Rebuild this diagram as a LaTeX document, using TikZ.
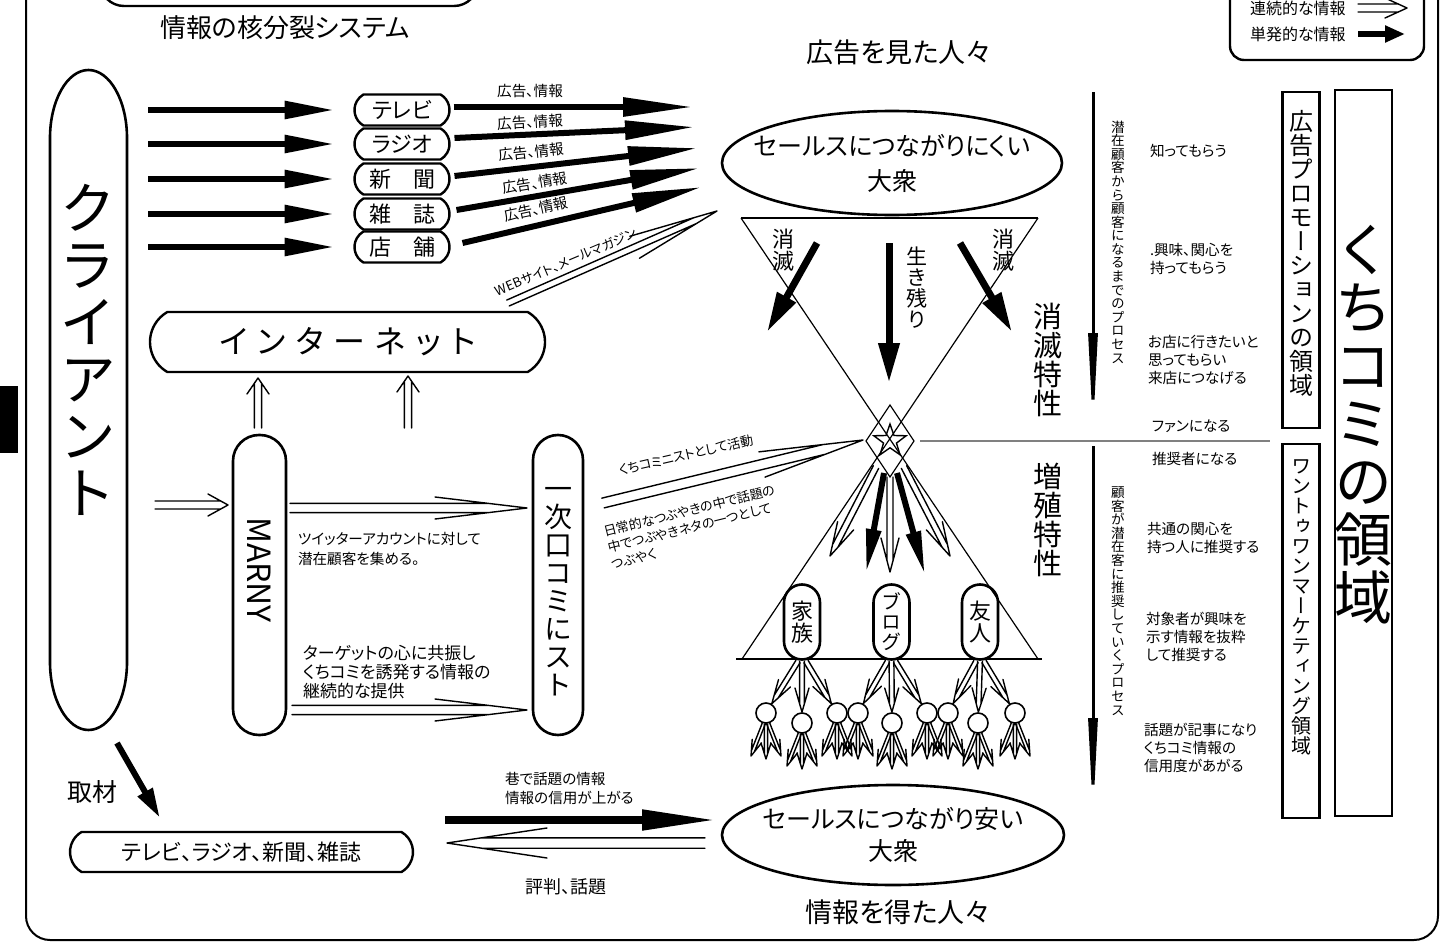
\documentclass[tikz,border=0pt]{standalone}
\usepackage{fontspec}
\setmainfont{Noto Sans CJK JP}[RawFeature=+palt]
\newfontfamily\vjp{Noto Sans CJK JP}[RawFeature=+vert]
\usetikzlibrary{arrows.meta,shapes.geometric,shapes.misc,calc}
\newcommand\fs[2]{\fontsize{#1pt}{#2pt}\selectfont}
% vertical text: one character per line, vertical glyph forms
\def\vstaux#1{\ifx\relax#1\else\hbox to 1em{\hss#1\hss}\expandafter\vstaux\fi}
\newcommand\V[2]{{\vjp\fontsize{#1pt}{#1pt}\selectfont\vbox{\baselineskip=#1pt\lineskiplimit=-1000pt\lineskip=0pt\vstaux#2\relax}}}
% double (open) arrow: [opts]{start}{tip}{half gap}{head length}{head half width}
\newcommand\darr[6][]{%
  \pgfmathsetmacro\darrc{#5*#4/#6}%
  \draw[dl,#1] ($(#2)!#4pt!90:(#3)$) -- ($(#3)!\darrc pt!(#2)!#4pt!90:(#3)$)
    ($(#2)!#4pt!-90:(#3)$) -- ($(#3)!\darrc pt!(#2)!#4pt!-90:(#3)$)
    ($(#3)!#5pt!(#2)!#6pt!90:(#3)$) -- (#3) -- ($(#3)!#5pt!(#2)!#6pt!-90:(#3)$);%
}
\tikzset{
  hstad/.style={draw, line width=1.2pt, rounded rectangle, rounded rectangle arc length=120},
  dl/.style={line width=0.7pt, line join=round, line cap=round},
  thkA/.style={line width=3pt,-{Triangle[length=25pt,width=8.5pt]}},
  thkB/.style={line width=3pt,-{Triangle[length=35pt,width=9pt]}},
  thkC/.style={line width=3.5pt,-{Triangle[length=20pt,width=10pt]}},
  thkD/.style={line width=3pt,-{Triangle[length=22pt,width=7pt]}},
  thkE/.style={line width=3pt,-{Triangle[length=15pt,width=8pt]}},
  thkF/.style={line width=4pt,-{Triangle[length=38pt,width=9.5pt]}},
  thkG/.style={line width=3pt,-{Triangle[length=10pt,width=8pt]}},
  varr/.style={line width=1.5pt,-{Triangle[length=50pt,width=4.5pt]}},
  vbox/.style={draw, line width=1.3pt},
  coltext/.style={anchor=west, align=left, font=\fs{7.3}{9}},
}
\begin{document}
\begin{tikzpicture}[x=0.5pt,y=-0.5pt, every node/.style={inner sep=0pt,outer sep=0pt}]
\useasboundingbox (0,0) rectangle (1442,942);
% frame
\draw[line width=1pt, rounded corners=12pt] (26,-60) rectangle (1438,940);
\fill (0,386) rectangle (18,453);
\draw[line width=1.2pt, rounded corners=12pt] (100,-60) rectangle (478,6);
\node[font=\fs{13}{15}] (title) at (285,28) {情報の核分裂システム};
% legend
\draw[line width=1.2pt, rounded corners=7pt] (1230,-40) rectangle (1424,60);
\node[anchor=west,font=\fs{8}{9}] (lg1) at (1250,8) {連続的な情報};
\node[anchor=west,font=\fs{8}{9}] (lg2) at (1250,34) {単発的な情報};
\coordinate (lga) at (1358,8); \coordinate (lgb) at (1407,8);
\darr{lga}{lgb}{2}{11}{5}
\coordinate (lgc) at (1358,34); \coordinate (lgd) at (1405,34);
\draw[thkG] (lgc) -- (lgd);
% headings
\node[font=\fs{13.5}{15}] (seen) at (899,52) {広告を見た人々};
\node[font=\fs{13.5}{15}] (got) at (898,912) {情報を得た人々};
% client
\node[minimum width=38.5pt, minimum height=330pt] (cl) at (88.5,400) {};
\draw[line width=1.3pt] (50,138) arc[start angle=180,end angle=360,x radius=38.5,y radius=68] -- (127,662) arc[start angle=0,end angle=180,x radius=38.5,y radius=68] -- cycle;
\node (clt) at (88,350) {\V{28.5}{クライアント}};
% media
\node[hstad, minimum width=47.5pt, minimum height=15.5pt, font=\fs{11}{12}] (tv) at (402,110) {テレビ};
\node[hstad, minimum width=47.5pt, minimum height=15.5pt, font=\fs{11}{12}] (ra) at (402,144) {ラジオ};
\node[hstad, minimum width=47.5pt, minimum height=15.5pt, font=\fs{11}{12}] (sh) at (402,179) {新\hspace{1em}聞};
\node[hstad, minimum width=47.5pt, minimum height=15.5pt, font=\fs{11}{12}] (za) at (402,214) {雑\hspace{1em}誌};
\node[hstad, minimum width=47.5pt, minimum height=15.5pt, font=\fs{11}{12}] (te) at (402,247) {店\hspace{1em}舗};
\foreach \m in {tv,ra,sh,za,te}{
  \draw[thkA] (cl.east |- \m) ++(21,0) -- ([xshift=-10pt]\m.west);
}
% media -> upper
\coordinate (m1) at (693,107); \coordinate (m2) at (695,127); \coordinate (m3) at (698,148);
\coordinate (m4) at (700,168); \coordinate (m5) at (702,187);
\draw[thkB] ([shift={(4,-3)}]tv.east) -- (m1);
\draw[thkB] ([shift={(5,-6)}]ra.east) -- (m2);
\draw[thkB] ([shift={(5,-3)}]sh.east) -- (m3);
\draw[thkB] ([shift={(7,-4)}]za.east) -- (m4);
\draw[thkB] ([shift={(13,-4)}]te.east) -- (m5);
\node[font=\fs{7.3}{8}] (l1) at (530,91) {広告、情報};
\node[font=\fs{7.3}{8},rotate=3] (l2) at (530,122) {広告、情報};
\node[font=\fs{7.3}{8},rotate=6] (l3) at (531,152) {広告、情報};
\node[font=\fs{7.3}{8},rotate=9] (l4) at (535,183) {広告、情報};
\node[font=\fs{7.3}{8},rotate=12] (l5) at (536,209) {広告、情報};
% upper ellipse
\draw[line width=1.3pt] (892,163) ellipse [x radius=170, y radius=52];
\node[align=center, font=\fs{12.5}{17.5}] (upper) at (892,163) {セールスにつながりにくい\\大衆};
% hourglass
\coordinate (tl) at (741,218); \coordinate (tr) at (1038,218);
\coordinate (bl) at (742,659); \coordinate (br) at (1038,659);
\draw[line width=0.6pt] (tl) -- (br) (tr) -- (bl);
\draw[line width=1pt] (tl) -- (tr);
\draw[line width=1.3pt] ([xshift=-3pt]bl) -- ([xshift=2pt]br);
\draw[line width=0.6pt] (890,405) -- (866,441) -- (890,477) -- (914,441) -- cycle;
\node[star, star points=5, star point ratio=2.5, draw, line width=0.7pt, minimum size=17pt] (star) at (890,441) {};
% arrows in upper triangle
\coordinate (ua1) at (817,243); \coordinate (ub1) at (767,332);
\coordinate (ua2) at (889,243); \coordinate (ub2) at (889,383);
\coordinate (ua3) at (960,243); \coordinate (ub3) at (1012,332);
\draw[thkC] (ua1) -- (ub1);
\draw[thkC] (ua2) -- (ub2);
\draw[thkC] (ua3) -- (ub3);
\node (ms1) at (783,250) {\V{11}{消滅}};
\node (ms2) at (1003,250) {\V{11}{消滅}};
\node (iki) at (917,288) {\V{10.5}{生き残り}};
\node (sm) at (1048,360) {\V{14.5}{消滅特性}};
\node (zs) at (1048,520) {\V{14.5}{増殖特性}};
% gray line
\coordinate (g1) at (920,441); \coordinate (g2) at (1270,441);
\draw[gray, line width=0.6pt] (g1) -- (g2);
% vertical process arrows
\coordinate (va1) at (1093,92); \coordinate (vb1) at (1093,433);
\coordinate (va2) at (1093,446); \coordinate (vb2) at (1093,818);
\draw[varr] (va1) -- (vb1);
\draw[varr] (va2) -- (vb2);
\node (p1) at (1118,242) {\V{6.8}{潜在顧客から顧客になるまでのプロセス}};
\node (p2) at (1118,601) {\V{6.8}{顧客が潜在客に推奨していくプロセス}};
% right column texts
\node[coltext] (r1) at (1150,151) {知ってもらう};
\node[coltext] (r2) at (1150,259) {.興味、関心を\\持ってもらう};
\node[coltext] (r3) at (1148,360) {お店に行きたいと\\思ってもらい\\来店につなげる};
\node[coltext] (r4) at (1152,426) {ファンになる};
\node[coltext] (r5) at (1152,459) {推奨者になる};
\node[coltext] (r6) at (1147,538) {共通の関心を\\持つ人に推奨する};
\node[coltext] (r7) at (1146,637) {対象者が興味を\\示す情報を抜粋\\して推奨する};
\node[coltext] (r8) at (1144,748) {話題が記事になり\\くちコミ情報の\\信用度があがる};
% area boxes
\node[vbox, minimum width=18.5pt, minimum height=168pt] (b1) at (1301,260) {};
\node (b1t) at (1301,253) {\V{12}{広告プロモーションの領域}};
\node[vbox, minimum width=18.5pt, minimum height=187pt] (b2) at (1301,631) {};
\node (b2t) at (1301,607) {\V{10}{ワントゥワンマーケティング領域}};
\node[vbox, minimum width=28.5pt, minimum height=363pt] (b3) at (1363.5,453) {};
\node (b3t) at (1363,425) {\V{29}{くちコミの領域}};
% internet
\node[hstad, minimum width=197.5pt, minimum height=30pt, font=\fs{16}{18}] (net) at (347.5,342) {イ\kern5pt ン\kern5pt タ\kern5pt ー\kern5pt ネ\kern5pt ッ\kern5pt ト};
\coordinate (u1s) at (258,428); \coordinate (u1t) at (258,378);
\darr{u1s}{u1t}{1.8}{8}{5.5}
\coordinate (u2s) at (408,428); \coordinate (u2t) at (408,376);
\darr{u2s}{u2t}{1.8}{8}{5.5}
% web
\coordinate (ws) at (508,303); \coordinate (wt) at (717,211);
\darr{ws}{wt}{1.6}{45}{6}
\node[rotate=23, font=\fs{6.5}{7}] (webt) at (566,262) {WEBサイト、メールマガジン};
% MARNY and first kuchikomi-nist
\node[vbox, rounded corners=13pt, minimum width=26.5pt, minimum height=150pt] (mar) at (259.5,585) {};
\node[rotate=-90, font=\fs{16}{17}] (mart) at (259.5,570) {MARNY};
\node[vbox, rounded corners=12.5pt, minimum width=25pt, minimum height=150pt] (ichi) at (558,585) {};
\node (ichit) at (558,592) {\V{14}{一次口コミにスト}};
\coordinate (cm1) at (155,505); \coordinate (cm2) at (228,505);
\darr{cm1}{cm2}{2}{10}{5.5}
\coordinate (mi1) at (290,508); \coordinate (mi2) at (527,508);
\darr{mi1}{mi2}{2.3}{46}{5.5}
\coordinate (mi3) at (292,710); \coordinate (mi4) at (527,710);
\darr{mi3}{mi4}{2.3}{46}{5.5}
\node[anchor=west, align=left, font=\fs{7.3}{10}] (tw) at (298,549) {ツイッターアカウントに対して\\潜在顧客を集める。};
\node[anchor=west, align=left, font=\fs{8.5}{9.3}] (tg) at (303,672) {ターゲットの心に共振し\\くちコミを誘発する情報の\\継続的な提供};
% to the star
\coordinate (ks) at (603,503); \coordinate (kt) at (863,440);
\darr{ks}{kt}{2.5}{52}{6.5}
\node[rotate=13, font=\fs{6.5}{7}] (kl) at (686,455) {くちコミニストとして活動};
\node[rotate=14, anchor=west, align=left, font=\fs{6.5}{8.3}] (nl) at (608,548) {日常的なつぶやきの中で話題の\\中でつぶやきネタの一つとして\\つぶやく};
% star fan
\coordinate (sf1) at (876,467); \coordinate (sf1t) at (830,556);
\coordinate (sf2) at (890,477); \coordinate (sf2t) at (890,572);
\coordinate (sf3) at (904,467); \coordinate (sf3t) at (950,556);
\darr{sf1}{sf1t}{1.5}{17}{4.5}
\darr{sf2}{sf2t}{1.5}{17}{4.5}
\darr{sf3}{sf3t}{1.5}{17}{4.5}
\coordinate (sd1) at (884,473); \coordinate (sd1t) at (866,573);
\coordinate (sd2) at (897,473); \coordinate (sd2t) at (925,575);
\draw[thkD] (sd1) -- (sd1t);
\draw[thkD] (sd2) -- (sd2t);
% groups
\node[vbox, rounded corners=9pt, minimum width=18pt, minimum height=37.5pt] (kazoku) at (802,622) {};
\node (kzt) at (802,622) {\V{11}{家族}};
\node[vbox, rounded corners=9pt, minimum width=18pt, minimum height=37.5pt] (blog) at (891.5,622) {};
\node (blt) at (891.5,622) {\V{10}{ブログ}};
\node[vbox, rounded corners=9pt, minimum width=18pt, minimum height=37.5pt] (yujin) at (980,622) {};
\node (yjt) at (980,622) {\V{11}{友人}};
\foreach \cx/\cy [count=\k] in {766/713,802/723,837/713,858/713,892/723,927/713,948/713,978/723,1015/713}{
  \node[circle, draw, line width=0.8pt, minimum size=10pt] (c\k) at (\cx,\cy) {};
  \coordinate (f1s) at ($(c\k)+(-2,10)$); \coordinate (f1t) at ($(c\k)+(-15,43)$);
  \coordinate (f2s) at ($(c\k)+(0,11)$); \coordinate (f2t) at ($(c\k)+(0,46)$);
  \coordinate (f3s) at ($(c\k)+(2,10)$); \coordinate (f3t) at ($(c\k)+(15,43)$);
  \darr{f1s}{f1t}{0.8}{8}{2.5}
  \darr{f2s}{f2t}{0.8}{8}{2.5}
  \darr{f3s}{f3t}{0.8}{8}{2.5}
}
\foreach \g/\ca/\cb/\cc in {kazoku/c1/c2/c3, blog/c4/c5/c6, yujin/c7/c8/c9}{
  \coordinate (s1) at ($(\g.south)+(-4,2)$); \coordinate (t1) at ($(\ca)!5.5pt!(s1)$);
  \coordinate (s2) at ($(\g.south)+(0,2)$);  \coordinate (t2) at ($(\cb)!5.5pt!(s2)$);
  \coordinate (s3) at ($(\g.south)+(4,2)$);  \coordinate (t3) at ($(\cc)!5.5pt!(s3)$);
  \darr{s1}{t1}{1.2}{12}{3.5}
  \darr{s2}{t2}{1.2}{12}{3.5}
  \darr{s3}{t3}{1.2}{12}{3.5}
}
% bottom
\coordinate (zs1) at (117,743); \coordinate (zt1) at (160,818);
\draw[thkE] (zs1) -- (zt1);
\node[font=\fs{12.5}{14}] (shuzai) at (93,792) {取材};
\node[hstad, minimum width=171.5pt, minimum height=20pt, font=\fs{11}{12}] (media2) at (241.5,852) {テレビ、ラジオ、新聞、雑誌};
\draw[line width=1.3pt] (893,835) ellipse [x radius=171, y radius=50];
\node[align=center, font=\fs{12.5}{16}] (lower) at (893,835) {セールスにつながり安い\\大衆};
\coordinate (bs1) at (445,820); \coordinate (bt1) at (718,820);
\draw[thkF] (bs1) -- (bt1);
\coordinate (bs2) at (705,843); \coordinate (bt2) at (447,843);
\darr{bs2}{bt2}{2.6}{50}{7.5}
\node[anchor=west, align=left, font=\fs{7.3}{9.5}] (btx) at (505,788) {巷で話題の情報\\情報の信用が上がる};
\node[font=\fs{9}{10}] (hyo) at (566,887) {評判、話題};
\end{tikzpicture}
\end{document}
